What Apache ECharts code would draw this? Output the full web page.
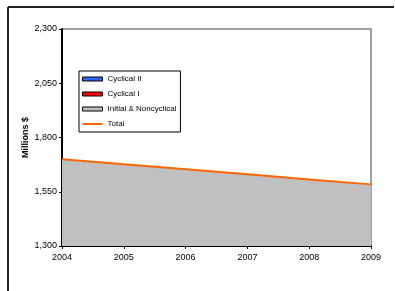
<!DOCTYPE html>
<html>
<head>
<meta charset="utf-8">
<script src="https://cdn.jsdelivr.net/npm/echarts@6/dist/echarts.min.js"></script>
<style>
  html, body { margin: 0; padding: 0; background: #fff; }
  #chart { width: 395px; height: 291px; }
</style>
</head>
<body>
<div id="chart"></div>
<script>
// chart values
const years = ['2004', '2005', '2006', '2007', '2008', '2009'];
const initialNoncyclical = [1700, 1677, 1654, 1631, 1607, 1584];
const cyclicalI = [0, 0, 0, 0, 0, 0];
const cyclicalII = [0, 0, 0, 0, 0, 0];
const total = [1700, 1677, 1654, 1631, 1607, 1584];
const yTicks = [1300, 1550, 1800, 2050, 2300];

const font = 'Liberation Sans, Arial, sans-serif';
const boxIcon = { borderColor: '#000', borderWidth: 1 };

const echart = echarts.init(document.getElementById('chart'));
echart.setOption({
  animation: false,
  textStyle: { fontFamily: font },
  grid: {
    left: 62, top: 29, right: 24, bottom: 45,
    show: true, borderColor: '#808080', borderWidth: 1.5
  },
  graphic: [
    { type: 'line', shape: { x1: 8, y1: 7, x2: 394, y2: 7 }, style: { stroke: '#222', lineWidth: 2 } },
    { type: 'line', shape: { x1: 8, y1: 7, x2: 8, y2: 291 }, style: { stroke: '#222', lineWidth: 2 } }
  ],
  legend: {
    orient: 'vertical',
    left: 79, top: 71,
    padding: [3, 4, 3, 3],
    itemWidth: 20, itemHeight: 4,
    itemGap: 5, itemTextGap: 4,
    borderColor: '#000', borderWidth: 1,
    textStyle: { fontSize: 8, color: '#000', lineHeight: 10 },
    data: [
      { name: 'Cyclical II', icon: 'rect', itemStyle: boxIcon },
      { name: 'Cyclical I', icon: 'rect', itemStyle: boxIcon },
      { name: 'Initial & Noncyclical', icon: 'rect', itemStyle: boxIcon },
      {
        name: 'Total',
        icon: 'path://M0,0H20V0.01H0Z M0,1H20V3H0Z M0,3.99H20V4H0Z',
        itemStyle: { color: '#FF6600', borderWidth: 0 }
      }
    ]
  },
  xAxis: {
    type: 'category',
    data: years,
    boundaryGap: false,
    axisLine: { lineStyle: { color: '#000', width: 2 } },
    axisTick: { length: 3, lineStyle: { color: '#000' } },
    axisLabel: { fontSize: 9, color: '#000', margin: 7 },
    splitLine: { show: false }
  },
  yAxis: {
    type: 'value',
    min: yTicks[0],
    max: yTicks[yTicks.length - 1],
    interval: 250,
    name: 'Millions $',
    nameLocation: 'middle',
    nameRotate: 90,
    nameGap: 32,
    nameMoveOverlap: false,
    nameTextStyle: { fontSize: 9, fontWeight: 'bold', color: '#000' },
    axisLine: { show: true, lineStyle: { color: '#000', width: 2 } },
    axisTick: { show: true, length: 3, lineStyle: { color: '#000' } },
    axisLabel: {
      fontSize: 9, color: '#000', margin: 5,
      formatter: v => v.toLocaleString('en-US')
    },
    splitLine: { show: false }
  },
  series: [
    {
      name: 'Initial & Noncyclical', type: 'line', stack: 'cost', data: initialNoncyclical,
      symbol: 'none', lineStyle: { width: 0 },
      itemStyle: { color: '#C0C0C0' }, areaStyle: { color: '#C0C0C0', opacity: 1 }
    },
    {
      name: 'Cyclical I', type: 'line', stack: 'cost', data: cyclicalI,
      symbol: 'none', lineStyle: { width: 0 },
      itemStyle: { color: '#FF0000' }, areaStyle: { color: '#FF0000', opacity: 1 }
    },
    {
      name: 'Cyclical II', type: 'line', stack: 'cost', data: cyclicalII,
      symbol: 'none', lineStyle: { width: 0 },
      itemStyle: { color: '#3366FF' }, areaStyle: { color: '#3366FF', opacity: 1 }
    },
    {
      name: 'Total', type: 'line', data: total,
      symbol: 'none', lineStyle: { width: 2, color: '#FF6600' },
      itemStyle: { color: '#FF6600' }, z: 5
    }
  ]
});
</script>
</body>
</html>
